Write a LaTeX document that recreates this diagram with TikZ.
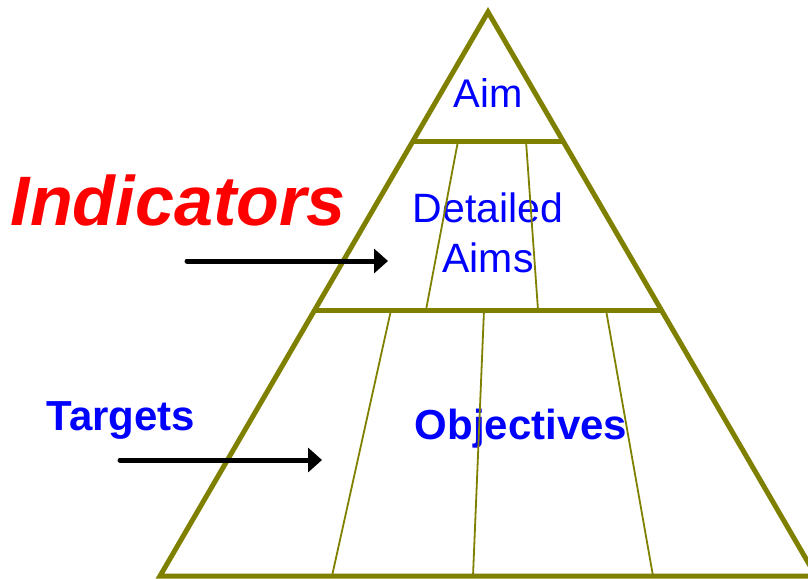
\documentclass[tikz,border=0pt]{standalone}
\usepackage{fontspec}
\setmainfont{Liberation Sans}
\usetikzlibrary{arrows.meta}
\definecolor{pyrolive}{RGB}{128,128,0}
\definecolor{tierblue}{RGB}{0,0,255}
\definecolor{notered}{RGB}{255,0,0}

\begin{document}
\begin{tikzpicture}[x=1pt, y=-1pt,
    outline/.style={draw=pyrolive, line width=5pt, line join=miter},
    divider/.style={draw=pyrolive, line width=1.8pt},
    pointer/.style={draw=black, line width=5pt, line cap=round,
      -{Triangle[length=14pt, width=24pt]}},
    tier/.style={text=tierblue, inner sep=0pt, font=\fontsize{41}{50}\selectfont},
    boldtier/.style={tier, font=\bfseries\fontsize{42}{50}\selectfont}]
  \clip (0,0) rectangle (808,578);
  \coordinate (apex) at (488,12);
  \coordinate (bl) at (160,576);
  \coordinate (br) at (816,576);
  \coordinate (l1) at (413,141);
  \coordinate (r1) at (563,141);
  \coordinate (l2) at (315,310);
  \coordinate (r2) at (661,310);
  \coordinate (d1t) at (458,141);
  \coordinate (d1b) at (426,310);
  \coordinate (d2t) at (526,141);
  \coordinate (d2b) at (538,310);
  \coordinate (d3t) at (391,310);
  \coordinate (d3b) at (332,576);
  \coordinate (d4t) at (484,310);
  \coordinate (d4b) at (473,576);
  \coordinate (d5t) at (606,310);
  \coordinate (d5b) at (653,576);
  \coordinate (ind1) at (187,261);
  \coordinate (ind2) at (388,261);
  \coordinate (tgt1) at (120,460);
  \coordinate (tgt2) at (322,460);

  \node[tier, anchor=base, font=\fontsize{40}{48}\selectfont] (aim) at (488,107) {Aim};
  \node[tier, align=center] (detailed) at (488,233) {Detailed\\Aims};
  \node[boldtier, anchor=base] (objectives) at (521,439) {Objectives};
  \node[boldtier, anchor=base] (targets) at (121,430) {Targets};
  \node[inner sep=0pt, anchor=base, text=notered,
    font=\bfseries\itshape\fontsize{70}{80}\selectfont] (indicators) at (178,225) {Indicators};

  \draw[divider] (d1t) -- (d1b);
  \draw[divider] (d2t) -- (d2b);
  \draw[divider] (d3t) -- (d3b);
  \draw[divider] (d4t) -- (d4b);
  \draw[divider] (d5t) -- (d5b);
  \draw[outline] (l1) -- (r1);
  \draw[outline] (l2) -- (r2);
  \draw[outline] (apex) -- (bl) -- (br) -- cycle;

  \draw[pointer] (ind1) -- (ind2);
  \draw[pointer] (tgt1) -- (tgt2);
\end{tikzpicture}
\end{document}
